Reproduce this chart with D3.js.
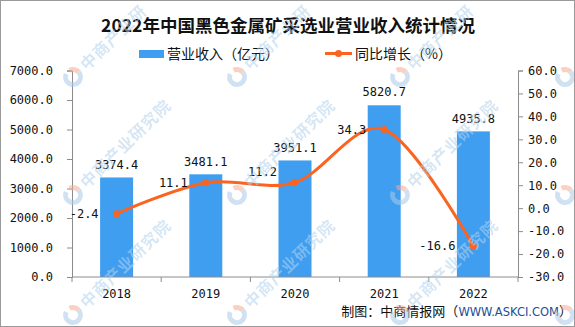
<!DOCTYPE html>
<html><head><meta charset="utf-8">
<script src="https://cdn.jsdelivr.net/npm/d3@7/dist/d3.min.js"></script>
<style>
html,body{margin:0;padding:0;background:#fff;}
svg{display:block;}
</style></head>
<body>
<svg id="chart" width="575" height="327"></svg>
<script>
const title = "2022年中国黑色金属矿采选业营业收入统计情况";
const years = ["2018", "2019", "2020", "2021", "2022"];
const revenue = [3374.4, 3481.1, 3951.1, 5820.7, 4935.8];
const growth = [-2.4, 11.1, 11.2, 34.3, -16.6];
const leftTicks = [0, 1000, 2000, 3000, 4000, 5000, 6000, 7000];
const rightTicks = [-30, -20, -10, 0, 10, 20, 30, 40, 50, 60];
const legendLabels = ["营业收入（亿元）", "同比增长（%）"];
const sourceParts = ["制图：中商情报网（", "WWW.ASKCI.COM", "）"];
const watermarkText = "中商产业研究院";

const W = 575, H = 327;
const M = {left: 72, right: 518, top: 70.5, bottom: 277};
const BAR = "#3f9ef0", LINE = "#fa6420";
const MONO = "'DejaVu Sans Mono', monospace";
const CJK = "'Noto Sans CJK SC', sans-serif";

const svg = d3.select("#chart");
svg.append("rect").attr("x", 0).attr("y", 0).attr("width", W).attr("height", H).attr("fill", "#fff");

const x = d3.scaleBand().domain(years).range([M.left, M.right]).padding(0);
const yL = d3.scaleLinear().domain([0, 7000]).range([M.bottom, M.top]);
const yR = d3.scaleLinear().domain([-30, 60]).range([M.bottom, M.top]);
const barW = x.bandwidth() * 0.37;

// title
svg.append("text").attr("x", 288).attr("y", 32).attr("text-anchor", "middle")
  .attr("font-family", CJK).attr("font-weight", "bold").attr("font-size", 17.5)
  .attr("fill", "#111").text(title);

// legend
svg.append("rect").attr("x", 139).attr("y", 50).attr("width", 25).attr("height", 8).attr("fill", BAR);
svg.append("text").attr("x", 167).attr("y", 58.5).attr("font-family", CJK).attr("font-size", 14)
  .attr("fill", "#111").text(legendLabels[0]);
svg.append("line").attr("x1", 325).attr("x2", 352).attr("y1", 53.5).attr("y2", 53.5)
  .attr("stroke", LINE).attr("stroke-width", 3);
svg.append("circle").attr("cx", 338.5).attr("cy", 53.5).attr("r", 3.5).attr("fill", LINE);
svg.append("text").attr("x", 355).attr("y", 58.5).attr("font-family", CJK).attr("font-size", 14)
  .attr("fill", "#111").text(legendLabels[1]);

// bars
svg.append("g").selectAll("rect").data(years).join("rect")
  .attr("x", d => x(d) + (x.bandwidth() - barW) / 2)
  .attr("width", barW)
  .attr("y", (d, i) => yL(revenue[i]))
  .attr("height", (d, i) => yL(0) - yL(revenue[i]))
  .attr("fill", BAR);

// axes
function styleAxis(g) {
  g.selectAll("path,line").attr("stroke", "#8c8c8c");
  g.selectAll("text").attr("font-family", MONO).attr("font-size", 12).attr("fill", "#111");
}
const fmt = d => d3.format(".1f")(d).replace("−", "-");
const axL = svg.append("g").attr("transform", `translate(${M.left},0)`)
  .call(d3.axisLeft(yL).tickValues(leftTicks).tickFormat(fmt).tickSizeOuter(0).tickSize(5).tickPadding(14));
styleAxis(axL);
const axR = svg.append("g").attr("transform", `translate(${M.right},0)`)
  .call(d3.axisRight(yR).tickValues(rightTicks).tickFormat(fmt).tickSizeOuter(0).tickSize(5).tickPadding(5));
styleAxis(axR);

const axB = svg.append("g").attr("transform", `translate(0,${M.bottom})`)
  .call(d3.axisBottom(x).tickSize(0).tickSizeOuter(0).tickPadding(12));
styleAxis(axB);
axB.select(".domain").attr("d", `M${M.left},0H${M.right}`);
const bounds = years.map(d => x(d)).concat([x(years[years.length - 1]) + x.bandwidth()]);
axB.selectAll("line.bnd").data(bounds).join("line").attr("class", "bnd")
  .attr("x1", d => d).attr("x2", d => d).attr("y1", 0).attr("y2", 5).attr("stroke", "#8c8c8c");

// bar labels
svg.append("g").selectAll("text").data(years).join("text")
  .attr("x", d => x(d) + x.bandwidth() / 2)
  .attr("y", (d, i) => yL(revenue[i]) - 13)
  .attr("dy", "0.35em").attr("text-anchor", "middle")
  .attr("font-family", MONO).attr("font-size", 12).attr("fill", "#111")
  .text((d, i) => fmt(revenue[i]));

// line
const pts = years.map((d, i) => [x(d) + x.bandwidth() / 2, yR(growth[i])]);
svg.append("path").attr("d", d3.line().curve(d3.curveCardinal.tension(0))(pts))
  .attr("fill", "none").attr("stroke", LINE).attr("stroke-width", 3);
svg.append("g").selectAll("circle").data(pts).join("circle")
  .attr("cx", d => d[0]).attr("cy", d => d[1]).attr("r", 3.5).attr("fill", LINE);
// labels left of points; lift a label if the incoming segment runs through it
const gap = 18, labelHalfW = 15;
const labelY = (d, i) => {
  if (i === 0) return d[1];
  const p = pts[i - 1], cx = d[0] - gap - labelHalfW;
  const t = (cx - p[0]) / (d[0] - p[0]);
  const ly = p[1] + t * (d[1] - p[1]);
  return Math.abs(ly - d[1]) < 10 ? d[1] - 11 : d[1];
};
svg.append("g").selectAll("text").data(pts).join("text")
  .attr("x", d => d[0] - gap).attr("y", labelY).attr("dy", "0.35em")
  .attr("text-anchor", "end").attr("font-family", MONO).attr("font-size", 12).attr("fill", "#111")
  .text((d, i) => fmt(growth[i]));

// source
const src = svg.append("text").attr("x", 572).attr("y", 316).attr("text-anchor", "end")
  .attr("font-size", 13).attr("font-family", CJK).attr("fill", "#111");
src.append("tspan").text(sourceParts[0]);
src.append("tspan").attr("font-family", "'DejaVu Sans', sans-serif").attr("font-size", 11.5).attr("fill", "#1c4f95").text(sourceParts[1]);
src.append("tspan").text(sourceParts[2]);

// watermark (characters drawn one by one, only those inside the picture)
const wmX = [73, 237, 400, 565], wmY = [77, 195, 315];
const ang = -44 * Math.PI / 180, step = 17;
const wm = svg.append("g").attr("opacity", 0.55).attr("pointer-events", "none");
wmY.forEach(yy => wmX.forEach(xx => {
  const g = wm.append("g").attr("transform", `translate(${xx},${yy}) rotate(-44)`);
  const arc = d3.arc().innerRadius(5).outerRadius(10);
  g.append("path").attr("d", arc({startAngle: 0.3, endAngle: 1.6})).attr("fill", "#f4a98f");
  g.append("path").attr("d", arc({startAngle: 1.6, endAngle: 5.9})).attr("fill", "#a9cbe8");
  Array.from(watermarkText).forEach((ch, k) => {
    const along = 22 + k * step;
    const gx = xx + along * Math.cos(ang), gy = yy + along * Math.sin(ang);
    if (gx < 10 || gx > W - 10 || gy < 10 || gy > H - 10) return;
    g.append("text").attr("x", along).attr("y", 0).attr("dy", "0.35em").attr("text-anchor", "middle")
      .attr("font-family", CJK).attr("font-weight", "bold")
      .attr("font-size", 16).attr("fill", "#b3d2ec").text(ch);
  });
}));

// border
svg.append("rect").attr("x", 0.5).attr("y", 0.5).attr("width", W - 1).attr("height", H - 1)
  .attr("fill", "none").attr("stroke", "#9a9a9a");
</script>
</body></html>
